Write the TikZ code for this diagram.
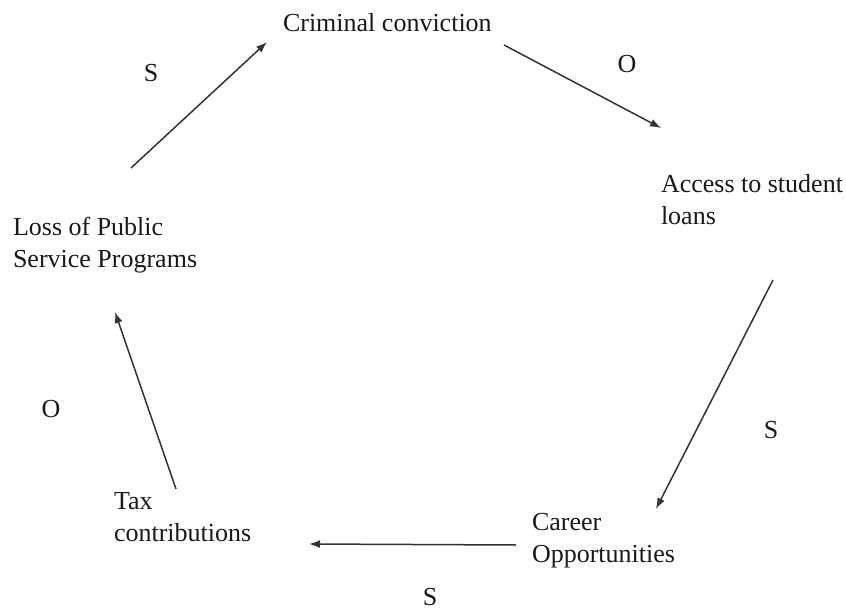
\documentclass[tikz,border=0pt]{standalone}
\usepackage{fontspec}
\setmainfont{Liberation Serif}
\usetikzlibrary{arrows.meta}
\begin{document}
\begin{tikzpicture}[x=1pt,y=-1pt,
  lbl/.style={inner sep=0pt,outer sep=0pt,anchor=base west,align=left,font=\fontsize{26}{32}\selectfont,text=black!90},
  sign/.style={inner sep=0pt,outer sep=0pt,font=\fontsize{26}{32}\selectfont,text=black!90},
  link/.style={line width=1.5pt,draw=black!80,-{Latex[length=11pt,width=8pt]}}]
\useasboundingbox (0,0) rectangle (846,612);
\node[lbl] (crim) at (283,32) {Criminal conviction};
\node[lbl] (acc) at (661,225) {Access to student\\loans};
\node[lbl] (car) at (532,562) {Career\\Opportunities};
\node[lbl] (tax) at (114,541) {Tax\\contributions};
\node[lbl] (loss) at (13,268) {Loss of Public\\Service Programs};
\node[sign] (s1) at (151,73) {S};
\node[sign] (o1) at (627,64) {O};
\node[sign] (s2) at (771,430) {S};
\node[sign] (s3) at (430,597) {S};
\node[sign] (o2) at (51,409) {O};
\coordinate (a1s) at (131,168); \coordinate (a1e) at (267,42);
\coordinate (a2s) at (504,45);  \coordinate (a2e) at (661,128);
\coordinate (a3s) at (773,280); \coordinate (a3e) at (656,509);
\coordinate (a4s) at (516,545); \coordinate (a4e) at (309,544);
\coordinate (a5s) at (176,489); \coordinate (a5e) at (115,312);
\draw[link] (a1s) -- (a1e);
\draw[link] (a2s) -- (a2e);
\draw[link] (a3s) -- (a3e);
\draw[link] (a4s) -- (a4e);
\draw[link] (a5s) -- (a5e);
\end{tikzpicture}
\end{document}
